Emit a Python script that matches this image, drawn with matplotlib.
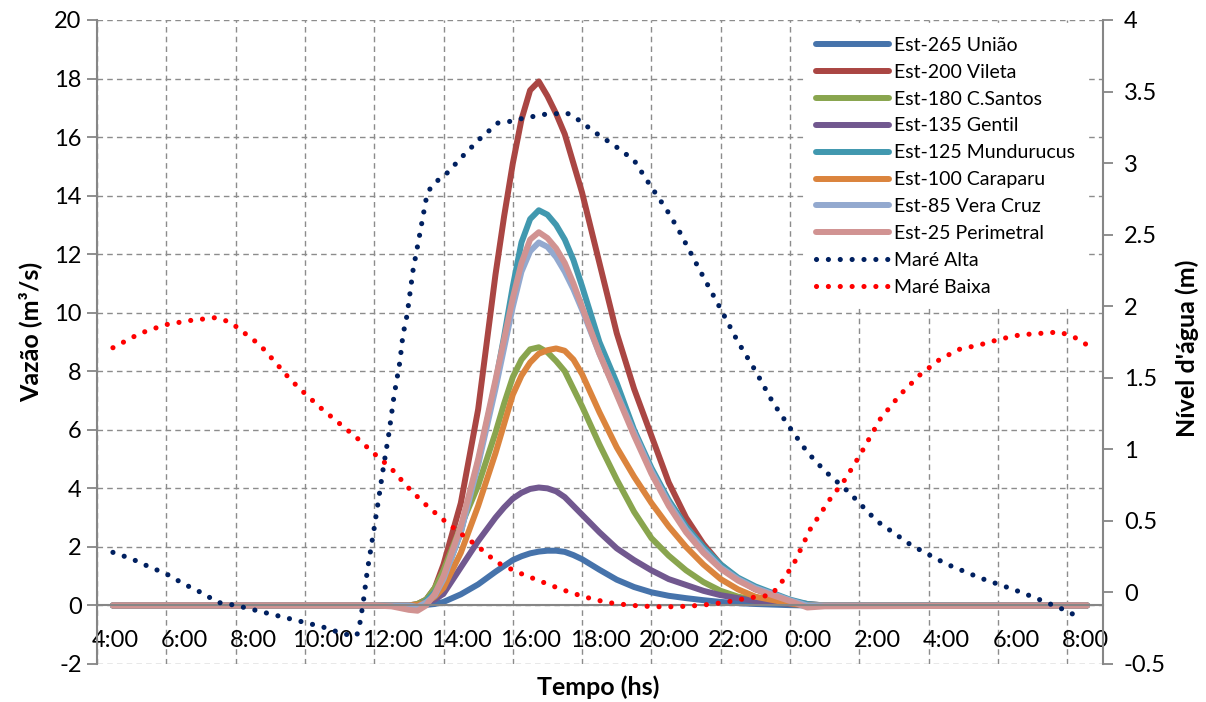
# -*- coding: utf-8 -*-
"""
Vazão das estações x nível de maré (maré alta / maré baixa)
"""
import numpy as np
import matplotlib.pyplot as plt
import matplotlib.transforms as mtransforms

plt.rcParams['font.family'] = ['Lato', 'DejaVu Sans']
plt.rcParams['axes.unicode_minus'] = False

# ------- data (time in hours from 0:00 of first day)
t_q = [4.46, 12.0, 12.5, 13.0, 13.25, 13.5, 13.75, 14.0, 14.5, 15.0, 15.5, 15.75,
       16.0, 16.25, 16.5, 16.75, 17.0, 17.25, 17.5, 17.75, 18.0, 18.5, 19.0, 19.5,
       20.0, 20.5, 21.0, 21.5, 22.0, 22.5, 23.0, 24.0, 24.5, 25.0, 32.57]

q_uniao = [0, 0, 0, 0, 0, 0.02, 0.05, 0.12, 0.38, 0.72, 1.15, 1.35, 1.55, 1.68, 1.78,
           1.84, 1.87, 1.87, 1.83, 1.72, 1.58, 1.22, 0.88, 0.63, 0.45, 0.33, 0.25,
           0.18, 0.12, 0.08, 0.05, 0.01, 0, 0, 0]
q_vileta = [0, 0, 0, 0, 0.05, 0.2, 0.6, 1.4, 3.5, 6.7, 11.3, 13.3, 15.1, 16.6, 17.6,
            17.9, 17.4, 16.8, 16.1, 15.1, 14.1, 11.7, 9.3, 7.4, 5.8, 4.2, 3.0, 2.1,
            1.4, 0.9, 0.55, 0.15, 0.05, 0, 0]
q_csantos = [0, 0, 0, 0, 0.05, 0.2, 0.6, 1.2, 2.7, 4.1, 5.9, 6.9, 7.8, 8.4, 8.75,
             8.82, 8.65, 8.35, 8.0, 7.4, 6.8, 5.5, 4.3, 3.2, 2.3, 1.7, 1.2, 0.8, 0.5,
             0.3, 0.2, 0.05, 0, 0, 0]
q_gentil = [0, 0, 0, 0, 0, 0.1, 0.2, 0.4, 1.3, 2.2, 3.0, 3.35, 3.65, 3.85, 3.98,
            4.03, 4.0, 3.9, 3.7, 3.4, 3.1, 2.5, 1.95, 1.55, 1.2, 0.9, 0.7, 0.5, 0.35,
            0.25, 0.15, 0.05, 0, 0, 0]
q_mundurucus = [0, 0, 0, -0.03, -0.03, 0.15, 0.45, 0.9, 2.5, 4.9, 7.6, 9.2, 10.9,
                12.4, 13.2, 13.5, 13.35, 13.0, 12.5, 11.8, 10.9, 9.0, 7.6, 6.0, 4.7,
                3.6, 2.7, 2.0, 1.4, 0.95, 0.65, 0.2, 0.05, 0, 0]
q_caraparu = [0, 0, 0, 0, 0.02, 0.1, 0.3, 0.6, 1.8, 3.4, 5.2, 6.2, 7.2, 7.85, 8.3,
              8.6, 8.72, 8.78, 8.7, 8.4, 7.9, 6.6, 5.4, 4.4, 3.5, 2.7, 2.0, 1.4, 0.9,
              0.55, 0.3, 0.07, 0, 0, 0]
q_veracruz = [0, 0, 0, 0, -0.05, 0.1, 0.35, 0.9, 2.5, 4.8, 7.4, 8.8, 10.2, 11.4,
              12.1, 12.4, 12.25, 11.9, 11.4, 10.8, 10.1, 8.6, 7.25, 5.9, 4.6, 3.5,
              2.6, 1.9, 1.3, 0.9, 0.6, 0.18, 0.0, 0, 0]
q_perimetral = [0, 0, -0.03, -0.15, -0.18, 0.0, 0.4, 1.0, 2.7, 5.0, 7.7, 9.1, 10.5,
                11.7, 12.5, 12.75, 12.55, 12.2, 11.7, 11.0, 10.2, 8.6, 7.2, 5.8, 4.5,
                3.4, 2.5, 1.8, 1.25, 0.85, 0.55, 0.15, -0.07, -0.03, 0]

t_alta = [4.46, 5.0, 5.5, 6.0, 6.5, 7.0, 7.5, 8.0, 9.0, 10.0, 10.5, 11.0, 11.3, 11.5,
          11.6, 11.7, 11.8, 12.0, 12.17, 12.25, 12.43, 12.57, 12.74, 12.83, 12.95,
          13.12, 13.32, 13.5, 13.61, 13.84, 14.1, 14.56, 15.05, 15.57, 15.89, 16.24,
          16.9, 17.56, 17.85, 18.4, 18.95, 19.5, 19.87, 20.45, 20.77, 21.4, 22.0,
          22.5, 23.0, 23.5, 24.0, 24.5, 25.0, 25.7, 26.5, 27.5, 28.5, 29.5, 30.46,
          31.0, 31.5, 32.0, 32.3]
mare_alta = [0.28, 0.235, 0.18, 0.13, 0.06, 0.0, -0.07, -0.09, -0.15, -0.21, -0.24,
             -0.28, -0.30, -0.30, -0.2, -0.04, 0.15, 0.45, 0.72, 0.85, 1.12, 1.37,
             1.61, 1.80, 1.94, 2.25, 2.51, 2.75, 2.82, 2.88, 2.93, 3.05, 3.17, 3.28,
             3.29, 3.31, 3.34, 3.35, 3.31, 3.21, 3.12, 3.02, 2.88, 2.67, 2.54, 2.25,
             1.98, 1.75, 1.55, 1.33, 1.15, 0.98, 0.85, 0.7, 0.5, 0.33, 0.2, 0.1,
             0.02, -0.03, -0.08, -0.13, -0.17]

t_baixa = [4.46, 5.24, 5.96, 6.68, 7.41, 7.84, 8.27, 8.7, 9.14, 9.57, 10.0, 10.5,
           11.0, 11.5, 12.0, 12.48, 12.95, 13.41, 13.93, 14.45, 15.0, 15.54, 16.15,
           16.78, 17.42, 18.05, 18.72, 19.41, 20.07, 20.74, 21.43, 22.1, 22.76,
           23.42, 23.68, 23.88, 24.09, 24.58, 25.15, 25.59, 26.02, 26.6, 27.17,
           27.75, 28.33, 28.9, 29.48, 30.06, 30.64, 31.21, 31.79, 32.23, 32.57]
mare_baixa = [1.71, 1.81, 1.87, 1.90, 1.92, 1.89, 1.81, 1.73, 1.61, 1.49, 1.39, 1.28,
              1.18, 1.08, 0.97, 0.87, 0.74, 0.63, 0.52, 0.42, 0.32, 0.21, 0.14, 0.08,
              0.02, -0.03, -0.07, -0.09, -0.1, -0.1, -0.09, -0.07, -0.04, -0.02, 0.04,
              0.12, 0.19, 0.44, 0.65, 0.79, 0.96, 1.21, 1.38, 1.52, 1.63, 1.70, 1.73,
              1.77, 1.80, 1.81, 1.82, 1.78, 1.73]

series = [('Est-265 União', q_uniao, '#4673AB'),
          ('Est-200 Vileta', q_vileta, '#AA4643'),
          ('Est-180 C.Santos', q_csantos, '#89A54E'),
          ('Est-135 Gentil', q_gentil, '#71588F'),
          ('Est-125 Mundurucus', q_mundurucus, '#4198AF'),
          ('Est-100 Caraparu', q_caraparu, '#DB843D'),
          ('Est-85 Vera Cruz', q_veracruz, '#93A9CF'),
          ('Est-25 Perimetral', q_perimetral, '#D19392')]

hour_ticks = np.arange(4, 33, 2)
hour_labels = ['%d:00' % (h % 24) for h in hour_ticks]

# ------- figure
W, H = 1206, 702
fig = plt.figure(figsize=(W / 100, H / 100), dpi=100)
ax = fig.add_axes([97 / W, 1 - 664 / H, (1103 - 97) / W, (664 - 20) / H])
ax2 = ax.twinx()

grey = '#868686'
for name, q, c in series:
    ax.plot(t_q, q, color=c, lw=4.3, solid_capstyle='round',
            solid_joinstyle='round', label=name)

dot = (0, (0.01, 2.3))
ax2.plot(t_alta, mare_alta, color='#002060', lw=3.7, ls=dot,
         dash_capstyle='round', label='Maré Alta')
ax2.plot(t_baixa, mare_baixa, color='#FF0000', lw=3.7, ls=dot,
         dash_capstyle='round', label='Maré Baixa')

ax.set_xlim(4, 4 + (1103 - 97) / 34.65)
ax.set_ylim(-2, 20)
ax2.set_ylim(-0.5, 4)
ax.set_yticks(np.arange(-2, 21, 2))
ax2.set_yticks(np.arange(-0.5, 4.01, 0.5))
ax2.set_yticklabels(['%g' % v for v in np.arange(-0.5, 4.01, 0.5)])
ax.set_xticks(hour_ticks)
ax.set_xticklabels(hour_labels)

ax.grid(True, color='#8c8c8c', ls=(0, (4, 3)), lw=1)
ax.set_axisbelow(True)

for s in ['top', 'right']:
    ax.spines[s].set_visible(False)
for s in ['top', 'left', 'bottom']:
    ax2.spines[s].set_visible(False)
ax.spines['bottom'].set_position(('data', 0))
for sp in [ax.spines['left'], ax.spines['bottom'], ax2.spines['right']]:
    sp.set_color(grey)
    sp.set_linewidth(1.5)

ax.tick_params(axis='y', direction='out', length=7, width=1.3, color=grey,
               labelsize=17, pad=4)
ax2.tick_params(axis='y', direction='out', length=7, width=1.3, color=grey,
                labelsize=17, pad=8)
ax.tick_params(axis='x', length=0, labelsize=17, pad=18)
shift = mtransforms.ScaledTranslation(0.18, 0, fig.dpi_scale_trans)
for lab in ax.get_xticklabels():
    lab.set_transform(lab.get_transform() + shift)

ax.set_xlabel('Tempo (hs)', fontsize=18, fontweight='bold', va='center')
ax.xaxis.set_label_coords(0.498, -0.036)
ax.set_ylabel('Vazão (m³/s)', fontsize=18, fontweight='bold', va='center')
ax.yaxis.set_label_coords(-0.0666, 0.515)
ax2.set_ylabel("Nível d'água (m)", fontsize=18, fontweight='bold', va='center',
               rotation=90)
ax2.yaxis.set_label_coords(1.0835, 0.49)

h1, l1 = ax.get_legend_handles_labels()
h2, l2 = ax2.get_legend_handles_labels()
leg = ax2.legend(h1 + h2, l1 + l2, loc='upper left',
                 bbox_to_anchor=(806 / W, 1 - 27 / H), bbox_transform=fig.transFigure,
                 frameon=True, facecolor='white', edgecolor='none', framealpha=1,
                 fancybox=False, fontsize=14, handlelength=3.75, handletextpad=0.3,
                 labelspacing=0.51, borderpad=0.5, borderaxespad=0)

fig.savefig('out.png', dpi=100)
